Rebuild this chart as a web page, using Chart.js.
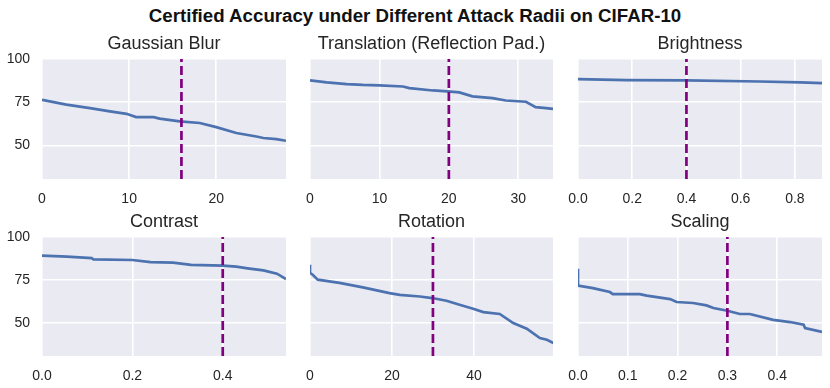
<!DOCTYPE html>
<html>
<head>
<meta charset="utf-8">
<script src="https://cdn.jsdelivr.net/npm/chart.js@4.4.0/dist/chart.umd.min.js"></script>
<style>
  body { margin: 0; background: #fff; width: 830px; height: 388px; position: relative; overflow: hidden; font-family: "Liberation Sans", Arial, sans-serif; }
  #suptitle { position: absolute; left: 0; top: 6px; width: 830px; text-align: center; font-weight: bold; font-size: 18.7px; line-height: 20px; color: #111; }
  canvas { position: absolute; }
</style>
</head>
<body>
<div id="suptitle">Certified Accuracy under Different Attack Radii on CIFAR-10</div>

<script>
// Données (rayon d'attaque -> précision certifiée, %)
const titles = ["Gaussian Blur", "Translation (Reflection Pad.)", "Brightness", "Contrast", "Rotation", "Scaling"];

const blurX = [0, 2.8, 5.5, 7.8, 9.7, 10.8, 12.8, 13.5, 15.8, 18.1, 20, 22.3, 24.6, 25.4, 26.9, 28];
const blurY = [76.4, 73.6, 71.6, 69.7, 68.3, 66.4, 66.4, 65.5, 63.9, 63.0, 60.6, 57.2, 55.2, 54.3, 53.7, 52.7];

const transX = [0, 2.4, 5.3, 7.6, 10, 13.4, 14.3, 17.7, 19.8, 21.5, 23.4, 26.3, 28.2, 31.1, 32.5, 34, 35];
const transY = [87.6, 86.5, 85.5, 85.0, 84.7, 84.1, 83.2, 81.8, 81.3, 80.7, 78.4, 77.4, 76.0, 75.3, 72.2, 71.6, 71.1];

const brightX = [0, 0.18, 0.4, 0.67, 0.82, 0.9];
const brightY = [88.4, 87.8, 87.6, 87.0, 86.5, 86.1];

const contrastX = [0, 0.055, 0.11, 0.114, 0.2, 0.24, 0.29, 0.33, 0.4, 0.43, 0.455, 0.49, 0.52, 0.54];
const contrastY = [89.1, 88.5, 87.7, 86.9, 86.6, 85.4, 85.0, 83.8, 83.3, 82.7, 81.7, 80.5, 78.6, 75.5];

const rotX = [0, 0, 0.65, 1.9, 4.7, 7.2, 12.9, 19.4, 21.9, 26.8, 29.8, 33.3, 36.5, 39.8, 42.3, 46.3, 49.6, 52.9, 56.1, 57.8, 59.4];
const rotY = [83.8, 79.0, 78.0, 75.1, 74.1, 73.2, 70.6, 67.3, 66.3, 65.3, 64.4, 62.8, 60.5, 58.2, 56.2, 55.1, 49.8, 46.5, 41.1, 40.1, 38.2];

const scaleX = [0, 0, 0.03, 0.064, 0.07, 0.124, 0.138, 0.185, 0.198, 0.231, 0.258, 0.272, 0.3, 0.325, 0.345, 0.392, 0.426, 0.453, 0.456, 0.49];
const scaleY = [81.5, 71.6, 70.2, 67.9, 66.7, 66.7, 65.8, 63.8, 62.1, 61.5, 60.1, 58.6, 57.0, 55.1, 55.1, 51.7, 50.4, 48.8, 46.9, 44.6];

const seriesX = [blurX, transX, brightX, contrastX, rotX, scaleX];
const seriesY = [blurY, transY, brightY, contrastY, rotY, scaleY];

// rayon retenu (ligne pointillée violette)
const chosenRadius = [16, 20, 0.4, 0.4, 30, 0.3];

const xMax = [28, 35, 0.9, 0.54, 59.3, 0.49];
const xTicks = [[0, 10, 20], [0, 10, 20, 30], [0, 0.2, 0.4, 0.6, 0.8], [0, 0.2, 0.4], [0, 20, 40], [0, 0.1, 0.2, 0.3, 0.4]];
const xTickLabels = [["0", "10", "20"], ["0", "10", "20", "30"], ["0.0", "0.2", "0.4", "0.6", "0.8"], ["0.0", "0.2", "0.4"], ["0", "20", "40"], ["0.0", "0.1", "0.2", "0.3", "0.4"]];
const yTicks = [50, 75, 100];
const yTickLabels = ["50", "75", "100"];
const yMin = 30.6, yMax = 100;

// Mise en page (zones de tracé en px)
const colLeft = [42, 310, 578], colRight = [286, 553, 822];
const rowTop = [59, 237], rowBottom = [179, 356];
const Y_AXIS_W = 42, TITLE_H = 34, X_AXIS_H = 28, PAD_R = 8;

const FONT = "'Liberation Sans', Arial, sans-serif";
const TEXT = "#262626";

const bgPlugin = {
  id: "bg",
  beforeDraw(chart) {
    const { ctx, chartArea: a } = chart;
    ctx.save();
    ctx.fillStyle = "#EAEAF2";
    ctx.fillRect(a.left, a.top, a.right - a.left, a.bottom - a.top);
    ctx.restore();
  }
};

titles.forEach((t, i) => {
  const col = i % 3, row = Math.floor(i / 3);
  const l = colLeft[col], r = colRight[col], top = rowTop[row], b = rowBottom[row];

  const canvas = document.createElement("canvas");
  canvas.width = r - l + Y_AXIS_W + PAD_R;
  canvas.height = b - top + TITLE_H + X_AXIS_H;
  canvas.style.left = (l - Y_AXIS_W) + "px";
  canvas.style.top = (top - TITLE_H) + "px";
  document.body.appendChild(canvas);

  new Chart(canvas, {
    type: "line",
    data: {
      datasets: [
        {
          data: [{ x: chosenRadius[i], y: yMin }, { x: chosenRadius[i], y: yMax }],
          borderColor: "#800080",
          borderWidth: 2.7,
          borderDash: [9, 4],
          pointRadius: 0
        },
        {
          data: seriesX[i].map((x, k) => ({ x: x, y: seriesY[i][k] })),
          borderColor: "#4C72B0",
          borderWidth: 2.7,
          pointRadius: 0,
          tension: 0
        }
      ]
    },
    options: {
      responsive: false,
      animation: false,
      devicePixelRatio: 1,
      layout: { padding: { left: 0, top: 0, bottom: 0, right: PAD_R } },
      plugins: {
        legend: { display: false },
        tooltip: { enabled: false },
        title: {
          display: true,
          fullSize: false,
          text: t,
          color: TEXT,
          font: { family: FONT, size: 18, weight: "normal" },
          padding: { top: 7.8, bottom: 4.6 }
        }
      },
      scales: {
        x: {
          type: "linear",
          min: 0,
          max: xMax[i],
          afterFit: s => { s.height = X_AXIS_H; },
          afterBuildTicks: s => { s.ticks = xTicks[i].map(v => ({ value: v })); },
          ticks: {
            autoSkip: false,
            maxRotation: 0,
            padding: 11.5,
            color: TEXT,
            font: { family: FONT, size: 14 },
            callback: (v, k) => xTickLabels[i][k]
          },
          grid: { color: "#ffffff", lineWidth: 1.6, drawTicks: false },
          border: { display: false }
        },
        y: {
          min: yMin,
          max: yMax,
          afterFit: s => { s.width = Y_AXIS_W; },
          afterBuildTicks: s => { s.ticks = yTicks.map(v => ({ value: v })); },
          ticks: {
            display: col === 0,
            padding: 12,
            color: TEXT,
            font: { family: FONT, size: 14 },
            callback: (v, k) => yTickLabels[k]
          },
          grid: { color: "#ffffff", lineWidth: 1.6, drawTicks: false },
          border: { display: false }
        }
      }
    },
    plugins: [bgPlugin]
  });
});
</script>
</body>
</html>
